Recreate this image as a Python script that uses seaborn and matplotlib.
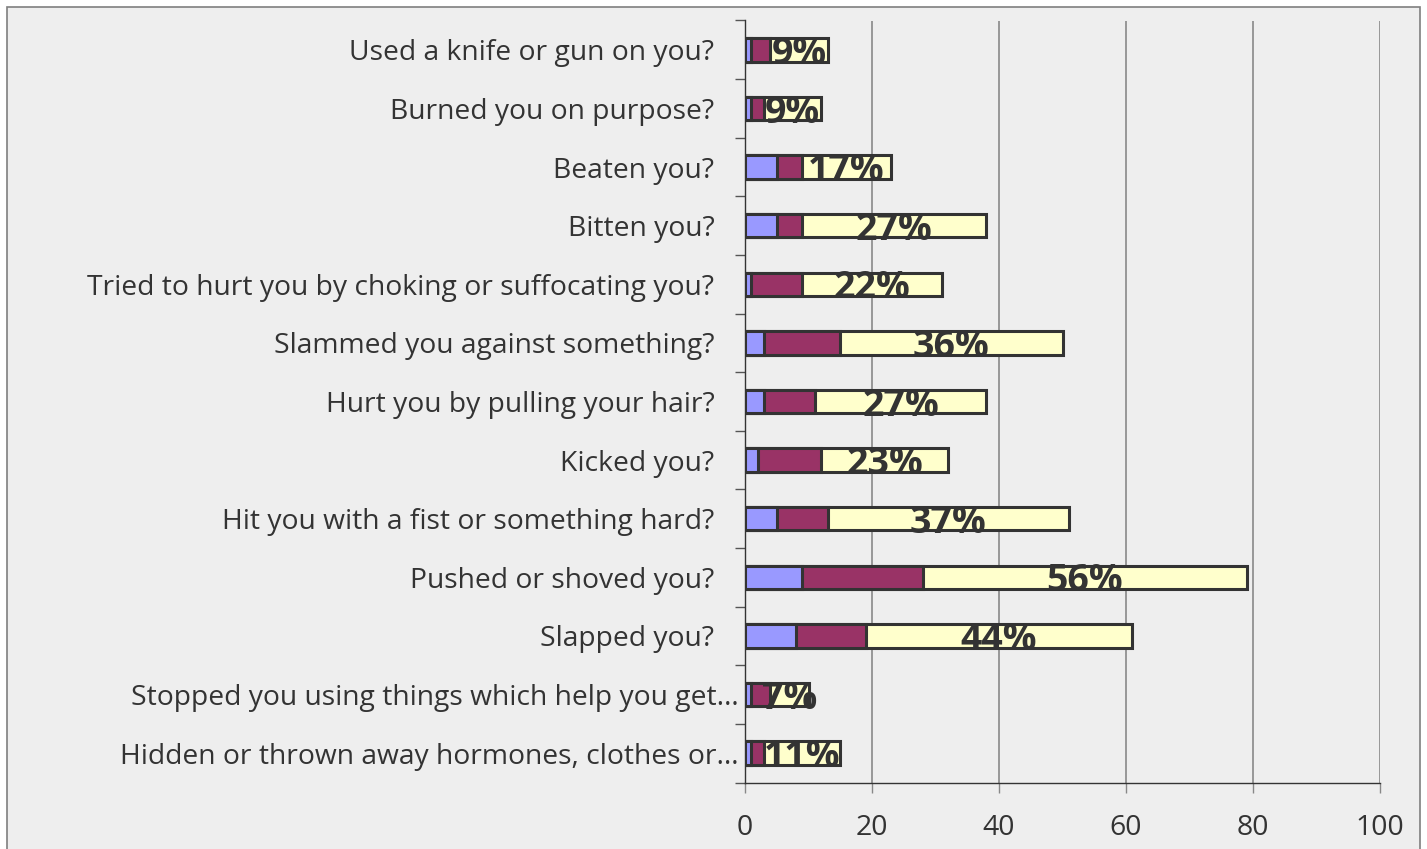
import matplotlib
matplotlib.use("Agg")
import matplotlib.pyplot as plt
import matplotlib.transforms as mtransforms
import seaborn as sns
import pandas as pd
from matplotlib.patches import Rectangle

# Survey items, top to bottom
categories = [
    "Used a knife or gun on you?",
    "Burned you on purpose?",
    "Beaten you?",
    "Bitten you?",
    "Tried to hurt you by choking or suffocating you?",
    "Slammed you against something?",
    "Hurt you by pulling your hair?",
    "Kicked you?",
    "Hit you with a fist or something hard?",
    "Pushed or shoved you?",
    "Slapped you?",
    "Stopped you using things which help you get\u2026",
    "Hidden or thrown away hormones, clothes or\u2026",
]

# Stacked segment values
series_a = [1, 1, 5, 5, 1, 3, 3, 2, 5, 9, 8, 1, 1]
series_b = [3, 2, 4, 4, 8, 12, 8, 10, 8, 19, 11, 3, 2]
series_c = [9, 9, 14, 29, 22, 35, 27, 20, 38, 51, 42, 6, 12]

# Percentage labels shown on the last segment
pct_labels = ["9%", "9%", "17%", "27%", "22%", "36%", "27%", "23%",
              "37%", "56%", "44%", "7%", "11%"]

x_ticks = [0, 20, 40, 60, 80, 100]

colors = ["#9999FF", "#993366", "#FFFFCC"]
edge = "#333333"
bg = "#EEEEEE"

df = pd.DataFrame({"item": categories, "a": series_a, "b": series_b, "c": series_c})
df["ab"] = df["a"] + df["b"]
df["abc"] = df["ab"] + df["c"]

sns.set_theme(style="white")
plt.rcParams["font.family"] = ["Open Sans", "DejaVu Sans"]

fig = plt.figure(figsize=(14.27, 8.49), dpi=100)
fig.patch.set_facecolor("white")
frame = Rectangle((7 / 1427, -0.05), 1413 / 1427, 1.05 - 7 / 849,
                  transform=fig.transFigure, facecolor=bg,
                  edgecolor="#7f7f7f", linewidth=1.2, zorder=-5)
fig.patches.append(frame)

ax = fig.add_axes([745 / 1427, 1 - 782.5 / 849, 635 / 1427, 762 / 849])
ax.set_zorder(2)
ax.patch.set_visible(False)

# Draw cumulative layers so the segments appear stacked
for col, color in zip(["abc", "ab", "a"], colors[::-1]):
    sns.barplot(data=df, x=col, y="item", orient="h", color=color,
                saturation=1, width=0.4, edgecolor=edge, linewidth=2.2,
                ax=ax, zorder=3)

for i, lab in enumerate(pct_labels):
    xc = df["ab"].iloc[i] + df["c"].iloc[i] / 2
    ax.text(xc, i + 0.07, lab, ha="center", va="center", fontsize=27,
            fontweight="bold", color="#333333", zorder=5)

ax.set_xlim(0, 100)
ax.set_ylim(len(categories) - 0.5, -0.5)
ax.set_xticks(x_ticks)
ax.set_xticklabels([str(t) for t in x_ticks])
ax.set_xlabel("")
ax.set_ylabel("")

ax.xaxis.grid(True, color="#888888", linewidth=1.2, zorder=1)
ax.yaxis.grid(False)
ax.set_axisbelow(True)

# Category ticks sit on the boundaries between rows
ax.set_yticks([i + 0.5 for i in range(-1, len(categories))], minor=True)
ax.tick_params(axis="y", which="minor", left=True, length=7, width=1,
               color="#555555", direction="out")
ax.tick_params(axis="y", which="major", left=False, labelsize=20.3,
               labelcolor="#333333", pad=16)
ax.tick_params(axis="x", bottom=True, length=7, width=1, color="#888888",
               labelsize=20.5, labelcolor="#333333", pad=16)

# Truncated labels run closer to the axis
shift = mtransforms.ScaledTranslation(24 / 100, 0, fig.dpi_scale_trans)
for lbl in ax.get_yticklabels():
    if lbl.get_text().endswith("\u2026"):
        lbl.set_transform(lbl.get_transform() + shift)

for side in ["top", "right"]:
    ax.spines[side].set_visible(False)
ax.spines["left"].set_color("#333333")
ax.spines["bottom"].set_color("#333333")
ax.spines["left"].set_linewidth(1)
ax.spines["bottom"].set_linewidth(1)

fig.savefig("out.png", dpi=100, facecolor=fig.get_facecolor())
